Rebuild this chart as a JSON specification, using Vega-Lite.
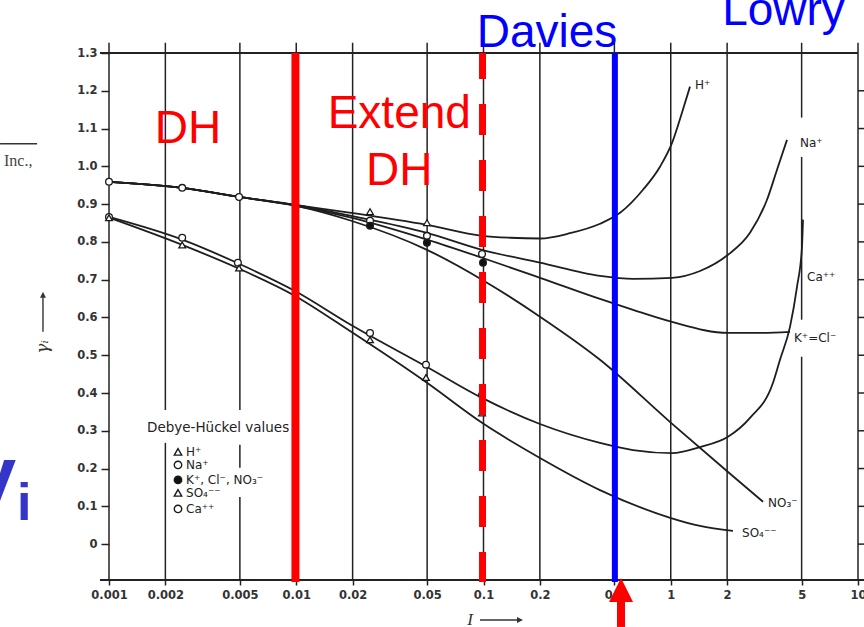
{
  "$schema": "https://vega.github.io/schema/vega-lite/v6.json",
  "width": 749,
  "height": 527,
  "autosize": {"type": "none"},
  "padding": {"left": 109, "top": 53, "right": 6, "bottom": 47},
  "background": "white",
  "config": {"view": {"stroke": null}},
  "datasets": {
    "grid": [
      {"I": 0.001, "g": 1.327, "g2": -0.095},
      {"I": 0.002, "g": 1.327, "g2": 0.355}, {"I": 0.002, "g": 0.268, "g2": -0.095},
      {"I": 0.005, "g": 1.327, "g2": 0.355}, {"I": 0.005, "g": 0.263, "g2": 0.202}, {"I": 0.005, "g": 0.125, "g2": -0.095},
      {"I": 0.01, "g": 1.327, "g2": -0.095},
      {"I": 0.02, "g": 1.327, "g2": -0.095},
      {"I": 0.05, "g": 1.327, "g2": -0.095},
      {"I": 0.1, "g": 1.327, "g2": -0.095},
      {"I": 0.2, "g": 1.327, "g2": -0.095},
      {"I": 0.5, "g": 1.327, "g2": -0.095},
      {"I": 1, "g": 1.327, "g2": -0.095},
      {"I": 2, "g": 1.327, "g2": -0.095},
      {"I": 5, "g": 1.327, "g2": 1.129}, {"I": 5, "g": 1.025, "g2": 0.594}, {"I": 5, "g": 0.496, "g2": -0.095},
      {"I": 10, "g": 1.327, "g2": -0.095}
    ],
    "frame": [
      {"I": 0.000895, "I2": 10, "g": 1.3},
      {"I": 0.000895, "I2": 10.77, "g": -0.095}
    ],
    "rticks": [
      {"I": 10, "I2": 10.77, "g": 0}, {"I": 10, "I2": 10.77, "g": 0.1}, {"I": 10, "I2": 10.77, "g": 0.2},
      {"I": 10, "I2": 10.77, "g": 0.3}, {"I": 10, "I2": 10.77, "g": 0.4}, {"I": 10, "I2": 10.77, "g": 0.5},
      {"I": 10, "I2": 10.77, "g": 0.6}, {"I": 10, "I2": 10.77, "g": 0.7}, {"I": 10, "I2": 10.77, "g": 0.8},
      {"I": 10, "I2": 10.77, "g": 0.9}, {"I": 10, "I2": 10.77, "g": 1.0}, {"I": 10, "I2": 10.77, "g": 1.1},
      {"I": 10, "I2": 10.77, "g": 1.2}
    ],
    "curves": [
      {"ion": "H", "I": 0.001, "g": 0.959}, {"ion": "H", "I": 0.00246, "g": 0.943}, {"ion": "H", "I": 0.00495, "g": 0.919},
      {"ion": "H", "I": 0.00985, "g": 0.898}, {"ion": "H", "I": 0.01965, "g": 0.877}, {"ion": "H", "I": 0.0499, "g": 0.845},
      {"ion": "H", "I": 0.0982, "g": 0.816}, {"ion": "H", "I": 0.1385, "g": 0.811}, {"ion": "H", "I": 0.2003, "g": 0.809},
      {"ion": "H", "I": 0.29, "g": 0.823}, {"ion": "H", "I": 0.419, "g": 0.848}, {"ion": "H", "I": 0.536, "g": 0.877},
      {"ion": "H", "I": 0.711, "g": 0.938}, {"ion": "H", "I": 0.876, "g": 0.999}, {"ion": "H", "I": 1.016, "g": 1.062},
      {"ion": "H", "I": 1.148, "g": 1.142}, {"ion": "H", "I": 1.267, "g": 1.211},

      {"ion": "Na", "I": 0.001, "g": 0.959}, {"ion": "Na", "I": 0.00246, "g": 0.943}, {"ion": "Na", "I": 0.00495, "g": 0.919},
      {"ion": "Na", "I": 0.00985, "g": 0.898}, {"ion": "Na", "I": 0.01965, "g": 0.869}, {"ion": "Na", "I": 0.0499, "g": 0.824},
      {"ion": "Na", "I": 0.0982, "g": 0.779}, {"ion": "Na", "I": 0.2003, "g": 0.745}, {"ion": "Na", "I": 0.419, "g": 0.71},
      {"ion": "Na", "I": 0.629, "g": 0.702}, {"ion": "Na", "I": 1.016, "g": 0.705}, {"ion": "Na", "I": 1.433, "g": 0.723},
      {"ion": "Na", "I": 2.022, "g": 0.766}, {"ion": "Na", "I": 2.65, "g": 0.824}, {"ion": "Na", "I": 3.266, "g": 0.9115},
      {"ion": "Na", "I": 3.694, "g": 0.991}, {"ion": "Na", "I": 4.176, "g": 1.07},

      {"ion": "K", "I": 0.001, "g": 0.959}, {"ion": "K", "I": 0.00246, "g": 0.943}, {"ion": "K", "I": 0.00495, "g": 0.919},
      {"ion": "K", "I": 0.00985, "g": 0.896}, {"ion": "K", "I": 0.01965, "g": 0.864}, {"ion": "K", "I": 0.0499, "g": 0.806},
      {"ion": "K", "I": 0.0982, "g": 0.758}, {"ion": "K", "I": 0.2003, "g": 0.705}, {"ion": "K", "I": 0.419, "g": 0.649},
      {"ion": "K", "I": 0.629, "g": 0.62}, {"ion": "K", "I": 1.016, "g": 0.588}, {"ion": "K", "I": 2.022, "g": 0.559},
      {"ion": "K", "I": 2.997, "g": 0.559}, {"ion": "K", "I": 4.333, "g": 0.562},

      {"ion": "NO3", "I": 0.001, "g": 0.959}, {"ion": "NO3", "I": 0.00246, "g": 0.943}, {"ion": "NO3", "I": 0.00495, "g": 0.919},
      {"ion": "NO3", "I": 0.00985, "g": 0.896}, {"ion": "NO3", "I": 0.01965, "g": 0.856}, {"ion": "NO3", "I": 0.0499, "g": 0.779},
      {"ion": "NO3", "I": 0.0982, "g": 0.7}, {"ion": "NO3", "I": 0.2003, "g": 0.602}, {"ion": "NO3", "I": 0.419, "g": 0.488},
      {"ion": "NO3", "I": 1.003, "g": 0.321}, {"ion": "NO3", "I": 2.022, "g": 0.191}, {"ion": "NO3", "I": 3.11, "g": 0.112},

      {"ion": "Ca", "I": 0.001, "g": 0.866}, {"ion": "Ca", "I": 0.00246, "g": 0.806}, {"ion": "Ca", "I": 0.00495, "g": 0.742},
      {"ion": "Ca", "I": 0.00985, "g": 0.67}, {"ion": "Ca", "I": 0.01965, "g": 0.58}, {"ion": "Ca", "I": 0.0499, "g": 0.469},
      {"ion": "Ca", "I": 0.0982, "g": 0.387}, {"ion": "Ca", "I": 0.2003, "g": 0.318}, {"ion": "Ca", "I": 0.419, "g": 0.268},
      {"ion": "Ca", "I": 0.629, "g": 0.249}, {"ion": "Ca", "I": 1.016, "g": 0.241}, {"ion": "Ca", "I": 1.433, "g": 0.257},
      {"ion": "Ca", "I": 2.022, "g": 0.284}, {"ion": "Ca", "I": 2.65, "g": 0.334}, {"ion": "Ca", "I": 3.517, "g": 0.427},
      {"ion": "Ca", "I": 3.832, "g": 0.488}, {"ion": "Ca", "I": 4.333, "g": 0.575}, {"ion": "Ca", "I": 4.723, "g": 0.681},
      {"ion": "Ca", "I": 5.022, "g": 0.787}, {"ion": "Ca", "I": 5.085, "g": 0.859},

      {"ion": "SO4", "I": 0.001, "g": 0.864}, {"ion": "SO4", "I": 0.00246, "g": 0.792}, {"ion": "SO4", "I": 0.00495, "g": 0.729},
      {"ion": "SO4", "I": 0.00985, "g": 0.657}, {"ion": "SO4", "I": 0.01965, "g": 0.562}, {"ion": "SO4", "I": 0.0499, "g": 0.427},
      {"ion": "SO4", "I": 0.0982, "g": 0.321}, {"ion": "SO4", "I": 0.2003, "g": 0.228}, {"ion": "SO4", "I": 0.419, "g": 0.143},
      {"ion": "SO4", "I": 1.003, "g": 0.069}, {"ion": "SO4", "I": 1.433, "g": 0.048}, {"ion": "SO4", "I": 2.149, "g": 0.035}
    ],
    "dh": [
      {"kind": "Na", "I": 0.001, "g": 0.959}, {"kind": "Na", "I": 0.00246, "g": 0.943}, {"kind": "Na", "I": 0.00495, "g": 0.919},
      {"kind": "Na", "I": 0.02477, "g": 0.856}, {"kind": "Na", "I": 0.0499, "g": 0.816}, {"kind": "Na", "I": 0.0982, "g": 0.768},
      {"kind": "H", "I": 0.02477, "g": 0.88}, {"kind": "H", "I": 0.0499, "g": 0.851},
      {"kind": "K", "I": 0.02477, "g": 0.843}, {"kind": "K", "I": 0.0499, "g": 0.798}, {"kind": "K", "I": 0.0994, "g": 0.745},
      {"kind": "Ca", "I": 0.001, "g": 0.866}, {"kind": "Ca", "I": 0.00246, "g": 0.811}, {"kind": "Ca", "I": 0.00488, "g": 0.745},
      {"kind": "Ca", "I": 0.02477, "g": 0.559}, {"kind": "Ca", "I": 0.0493, "g": 0.475}, {"kind": "Ca", "I": 0.0982, "g": 0.395},
      {"kind": "SO4", "I": 0.001, "g": 0.864}, {"kind": "SO4", "I": 0.00246, "g": 0.792}, {"kind": "SO4", "I": 0.00495, "g": 0.731},
      {"kind": "SO4", "I": 0.02477, "g": 0.541}, {"kind": "SO4", "I": 0.0493, "g": 0.441}, {"kind": "SO4", "I": 0.0982, "g": 0.347}
    ],
    "legsym": [
      {"kind": "H", "I": 0.002336, "g": 0.244},
      {"kind": "Na", "I": 0.002336, "g": 0.2097},
      {"kind": "K", "I": 0.002336, "g": 0.17},
      {"kind": "SO4", "I": 0.002336, "g": 0.1355},
      {"kind": "Ca", "I": 0.002336, "g": 0.0932}
    ],
    "legtext": [
      {"I": 0.002578, "g": 0.244, "t": "H⁺"},
      {"I": 0.002578, "g": 0.2097, "t": "Na⁺"},
      {"I": 0.002578, "g": 0.17, "t": "K⁺, Cl⁻, NO₃⁻"},
      {"I": 0.002578, "g": 0.1355, "t": "SO₄⁻⁻"},
      {"I": 0.002578, "g": 0.0932, "t": "Ca⁺⁺"}
    ],
    "legtitle": [{"I": 0.001596, "g": 0.308, "t": "Debye-Hückel values"}],
    "curvelabels": [
      {"I": 1.347, "g": 1.216, "t": "H⁺"},
      {"I": 4.9, "g": 1.062, "t": "Na⁺"},
      {"I": 5.342, "g": 0.708, "t": "Ca⁺⁺"},
      {"I": 4.551, "g": 0.546, "t": "K⁺=Cl⁻"},
      {"I": 3.306, "g": 0.109, "t": "NO₃⁻"},
      {"I": 2.402, "g": 0.03, "t": "SO₄⁻⁻"}
    ],
    "redsolid": [{"I": 0.0099, "g": 1.3, "g2": -0.1}],
    "reddash": [{"I": 0.0988, "g": 1.3, "g2": -0.1}],
    "blue": [{"I": 0.503, "g": 1.3, "g2": -0.1}],
    "redtext": [
      {"I": 0.002642, "g": 1.062, "t": "DH"},
      {"I": 0.0355, "g": 1.102, "t": "Extend"},
      {"I": 0.0355, "g": 0.951, "t": "DH"}
    ],
    "bluetext": [
      {"I": 0.2184, "g": 1.3167, "t": "Davies"},
      {"I": 4.0, "g": 1.375, "t": "Lowry"}
    ],
    "gammabig": [{"I": 0.000319, "g": 0.112, "t": "γ"}],
    "ibig": [{"I": 0.000323, "g": 0.064, "t": "i"}],
    "inc": [{"I": 0.000275, "g": 1.0015, "t": "Inc.,"}],
    "incline": [{"I": 0.000262, "I2": 0.000413, "g": 1.06}],
    "ytitle": [{"I": 0.000444, "g": 0.522, "t": "γᵢ"}],
    "yarrow": [{"I": 0.000444, "g": 0.657, "g2": 0.562}],
    "yhead": [{"I": 0.000444, "g": 0.66}],
    "xtitle": [{"I": 0.0847, "g": -0.2008, "t": "I"}],
    "xarrow": [{"I": 0.0958, "I2": 0.151, "g": -0.2008}],
    "xhead": [{"I": 0.1566, "g": -0.2008}],
    "redhead": [{"I": 0.5423, "g": -0.1213}],
    "redshaft": [{"I": 0.5423, "g": -0.1478, "g2": -0.2193}]
  },
  "encoding": {
    "x": {
      "field": "I", "type": "quantitative",
      "scale": {"type": "log", "domain": [0.001, 10]},
      "axis": {
        "values": [0.001, 0.002, 0.005, 0.01, 0.02, 0.05, 0.1, 0.2, 0.5, 1, 2, 5, 10],
        "labelExpr": "format(datum.value, '~g')",
        "title": null, "domain": false, "grid": false,
        "tickSize": 5, "tickWidth": 1.5, "tickColor": "#222",
        "labelFont": "DejaVu Sans", "labelFontWeight": "bold", "labelFontSize": 11.5, "labelColor": "#333",
        "labelPadding": 4, "labelOverlap": false, "labelFlush": false
      }
    },
    "y": {
      "field": "g", "type": "quantitative",
      "scale": {"domain": [-0.095, 1.3], "nice": false, "zero": false},
      "axis": {
        "values": [0, 0.1, 0.2, 0.3, 0.4, 0.5, 0.6, 0.7, 0.8, 0.9, 1, 1.1, 1.2, 1.3],
        "labelExpr": "datum.value == 0 ? '0' : format(datum.value, '.1f')",
        "title": null, "domain": false, "grid": false,
        "tickSize": 8, "tickWidth": 1.5, "tickColor": "#222",
        "labelFont": "DejaVu Sans", "labelFontWeight": "bold", "labelFontSize": 11.5, "labelColor": "#333",
        "labelPadding": 4, "labelOverlap": false, "labelFlush": false
      }
    }
  },
  "layer": [
    {"data": {"name": "grid"}, "mark": {"type": "rule", "color": "#222", "strokeWidth": 1.5}, "encoding": {"y2": {"field": "g2"}}},
    {"data": {"name": "frame"}, "mark": {"type": "rule", "color": "#222", "strokeWidth": 2}, "encoding": {"x2": {"field": "I2"}}},
    {"data": {"name": "rticks"}, "mark": {"type": "rule", "color": "#222", "strokeWidth": 1.5}, "encoding": {"x2": {"field": "I2"}}},
    {"data": {"name": "curves"}, "mark": {"type": "line", "interpolate": "monotone", "color": "#1e1e1e", "strokeWidth": 1.8}, "encoding": {"detail": {"field": "ion", "type": "nominal"}}},
    {"data": {"name": "dh"}, "mark": {"type": "point", "size": 45, "stroke": "#1a1a1a", "strokeWidth": 1.3, "opacity": 1},
      "encoding": {
        "shape": {"field": "kind", "type": "nominal", "scale": {"domain": ["H", "Na", "K", "SO4", "Ca"], "range": ["triangle-up", "circle", "circle", "triangle-up", "circle"]}, "legend": null},
        "fill": {"field": "kind", "type": "nominal", "scale": {"domain": ["H", "Na", "K", "SO4", "Ca"], "range": ["white", "white", "#111", "white", "white"]}, "legend": null}
      }},
    {"data": {"name": "legsym"}, "mark": {"type": "point", "size": 55, "stroke": "#1a1a1a", "strokeWidth": 1.4, "opacity": 1},
      "encoding": {
        "shape": {"field": "kind", "type": "nominal", "scale": {"domain": ["H", "Na", "K", "SO4", "Ca"], "range": ["triangle-up", "circle", "circle", "triangle-up", "circle"]}, "legend": null},
        "fill": {"field": "kind", "type": "nominal", "scale": {"domain": ["H", "Na", "K", "SO4", "Ca"], "range": ["white", "white", "#111", "white", "white"]}, "legend": null}
      }},
    {"data": {"name": "legtitle"}, "mark": {"type": "text", "font": "DejaVu Sans", "fontSize": 13.5, "color": "#222", "align": "left", "baseline": "middle"}, "encoding": {"text": {"field": "t"}}},
    {"data": {"name": "legtext"}, "mark": {"type": "text", "font": "DejaVu Sans", "fontSize": 12, "color": "#222", "align": "left", "baseline": "middle"}, "encoding": {"text": {"field": "t"}}},
    {"data": {"name": "curvelabels"}, "mark": {"type": "text", "font": "DejaVu Sans", "fontSize": 12, "color": "#222", "align": "left", "baseline": "middle"}, "encoding": {"text": {"field": "t"}}},
    {"data": {"name": "redsolid"}, "mark": {"type": "rule", "color": "#ff0000", "strokeWidth": 8}, "encoding": {"y2": {"field": "g2"}}},
    {"data": {"name": "reddash"}, "mark": {"type": "rule", "color": "#ff0000", "strokeWidth": 7, "strokeDash": [31, 25], "strokeDashOffset": 5}, "encoding": {"y2": {"field": "g2"}}},
    {"data": {"name": "blue"}, "mark": {"type": "rule", "color": "#0000ff", "strokeWidth": 6}, "encoding": {"y2": {"field": "g2"}}},
    {"data": {"name": "redtext"}, "mark": {"type": "text", "font": "Liberation Sans", "fontSize": 46, "color": "#ff0000", "align": "center", "baseline": "alphabetic"}, "encoding": {"text": {"field": "t"}}},
    {"data": {"name": "bluetext"}, "mark": {"type": "text", "font": "Liberation Sans", "fontSize": 46, "color": "#0000ff", "align": "center", "baseline": "alphabetic"}, "encoding": {"text": {"field": "t"}}},
    {"data": {"name": "gammabig"}, "mark": {"type": "text", "font": "Liberation Sans", "fontSize": 80, "fontWeight": "bold", "color": "#3535c8", "align": "right", "baseline": "alphabetic"}, "encoding": {"text": {"field": "t"}}},
    {"data": {"name": "ibig"}, "mark": {"type": "text", "font": "Liberation Sans", "fontSize": 52, "fontWeight": "bold", "color": "#3535c8", "align": "left", "baseline": "alphabetic"}, "encoding": {"text": {"field": "t"}}},
    {"data": {"name": "inc"}, "mark": {"type": "text", "font": "Liberation Serif", "fontSize": 16, "color": "#444", "align": "left", "baseline": "alphabetic"}, "encoding": {"text": {"field": "t"}}},
    {"data": {"name": "incline"}, "mark": {"type": "rule", "color": "#333", "strokeWidth": 1.5}, "encoding": {"x2": {"field": "I2"}}},
    {"data": {"name": "ytitle"}, "mark": {"type": "text", "font": "DejaVu Serif", "fontStyle": "italic", "fontSize": 17, "color": "#333", "angle": 270, "align": "center", "baseline": "middle"}, "encoding": {"text": {"field": "t"}}},
    {"data": {"name": "yarrow"}, "mark": {"type": "rule", "color": "#333", "strokeWidth": 1.4}, "encoding": {"y2": {"field": "g2"}}},
    {"data": {"name": "yhead"}, "mark": {"type": "point", "shape": "M0,-1L1,1L-1,1Z", "size": 36, "filled": true, "color": "#333", "opacity": 1}},
    {"data": {"name": "xtitle"}, "mark": {"type": "text", "font": "Liberation Serif", "fontStyle": "italic", "fontSize": 17, "color": "#333", "align": "center", "baseline": "middle"}, "encoding": {"text": {"field": "t"}}},
    {"data": {"name": "xarrow"}, "mark": {"type": "rule", "color": "#333", "strokeWidth": 1.4}, "encoding": {"x2": {"field": "I2"}}},
    {"data": {"name": "xhead"}, "mark": {"type": "point", "shape": "M1,0L-1,-1L-1,1Z", "size": 36, "filled": true, "color": "#333", "opacity": 1}},
    {"data": {"name": "redshaft"}, "mark": {"type": "rule", "color": "#ff0000", "strokeWidth": 8}, "encoding": {"y2": {"field": "g2"}}},
    {"data": {"name": "redhead"}, "mark": {"type": "point", "shape": "M0,-1L1,1L-1,1Z", "size": 576, "filled": true, "color": "#ff0000", "opacity": 1}}
  ]
}
